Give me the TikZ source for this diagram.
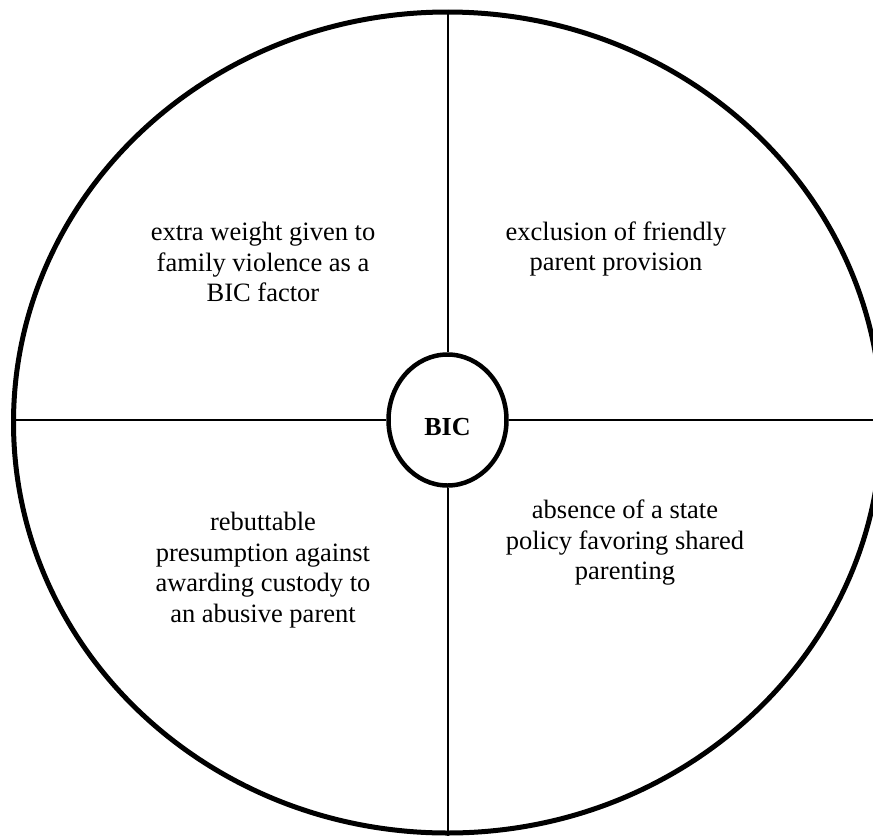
\documentclass[tikz,border=0pt]{standalone}
\usepackage{fontspec}
\setmainfont{Liberation Serif}
\usetikzlibrary{shapes.geometric}

\begin{document}
\begin{tikzpicture}[x=1pt,y=-1pt,
                    %thick,
                    rim/.style={ellipse,draw,line width=5pt,inner sep=0pt,
                                minimum width=868pt,minimum height=821pt},
                    hub/.style={ellipse,draw,fill=white,line width=4.5pt,inner sep=0pt,
                                minimum width=118pt,minimum height=131pt,
                                font=\fontsize{26}{30}\selectfont\bfseries},
                    spoke/.style={line width=2pt},
                    quarter/.style={align=center,font=\fontsize{26.5}{30.5}\selectfont}]

  \useasboundingbox (0,0) rectangle (873,836);
  \clip (0,0) rectangle (873,836);

  \node[rim] (wheel) at (447.5,422.5) {};
  \node[hub] (BIC) at (447.5,420) {\raisebox{-15pt}[0pt][0pt]{BIC}};

  % the four spokes, cut off by the hub
  \coordinate (left)  at (wheel.west |- 0,420);
  \coordinate (right) at (wheel.east |- 0,420);
  \draw[spoke] (wheel.north) -- (BIC)
               (wheel.south) -- (BIC)
               (left) -- (BIC)
               (right) -- (BIC);

  \node[quarter] (NW) at (263,262) {extra weight given to\\family violence as a\\BIC factor};
  \node[quarter] (NE) at (616,249) {exclusion of friendly\\parent provision};
  \node[quarter] (SW) at (263,570) {rebuttable\\presumption against\\awarding custody to\\an abusive parent};
  \node[quarter] (SE) at (625,543) {absence of a state\\policy favoring shared\\parenting};
\end{tikzpicture}
\end{document}
